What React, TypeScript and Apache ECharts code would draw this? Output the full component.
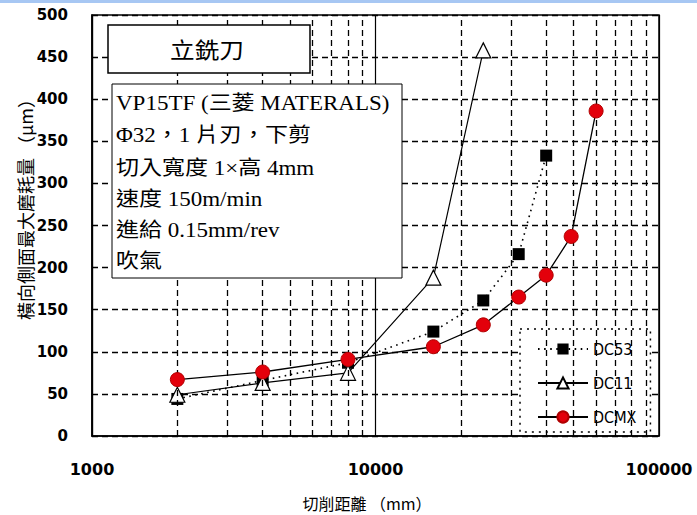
import React, { useEffect, useRef } from "react";
import * as echarts from "echarts";

// ---- data ----
const dc53X = [2000, 4000, 8000, 16000, 24000, 32000, 40000];
const dc53Y = [44, 66, 87, 124, 161, 216, 333];
const dc11X = [2000, 4000, 8000, 16000, 24000];
const dc11Y = [49, 63, 75, 188, 458];
const dcmxX = [2000, 4000, 8000, 16000, 24000, 32000, 40000, 49000, 60000];
const dcmxY = [67, 76, 91, 106, 132, 165, 191, 237, 386];
const seriesNames = ["DC53", "DC11", "DCMX"];
const minorGridX = [2000, 3000, 4000, 5000, 6000, 7000, 8000, 9000, 20000, 30000, 40000, 50000, 60000, 70000, 80000, 90000];
const titleText = "立銑刀";
const infoLines = [
  "VP15TF (三菱 MATERALS)",
  "Φ32，1 片刃，下剪",
  "切入寬度 1×高 4mm",
  "速度 150m/min",
  "進給 0.15mm/rev",
  "吹氣",
];
const xAxisTitle = "切削距離 （mm）";
const yAxisTitle = "橫向側面最大磨耗量 （μm）";

const pairs = (xs: number[], ys: number[]) => xs.map((x, i) => [x, ys[i]]);

export default function App() {
  const ref = useRef<HTMLDivElement>(null);
  useEffect(() => {
    document.body.style.margin = "0";
    const chart = echarts.init(ref.current!, null, { renderer: "svg" });
    const serif = "'Liberation Serif', 'Noto Sans CJK TC', serif";
    const lineYs = [104, 136, 169, 200, 231, 262];
    chart.setOption({
      animation: false,
      backgroundColor: "#fff",
      grid: {
        left: 92,
        right: 38,
        top: 15,
        bottom: 79,
        show: true,
        borderColor: "#000",
        borderWidth: 1.5,
      },
      xAxis: {
        type: "log",
        logBase: 10,
        min: 1000,
        max: 100000,
        axisLine: { lineStyle: { color: "#000", width: 1.5 } },
        axisTick: { show: false },
        axisLabel: {
          color: "#000",
          fontFamily: "'DejaVu Sans', sans-serif",
          fontWeight: "bold",
          fontSize: 16,
          margin: 25,
          formatter: (v: number) => String(Math.round(v)),
        },
        splitLine: { show: true, lineStyle: { color: "#000", width: 1.2, type: "solid" } },
      },
      yAxis: {
        type: "value",
        min: 0,
        max: 500,
        interval: 50,
        axisLine: { show: true, lineStyle: { color: "#000", width: 1.5 } },
        axisTick: { show: false },
        axisLabel: {
          color: "#000",
          fontFamily: "'DejaVu Sans', sans-serif",
          fontWeight: "bold",
          fontSize: 15,
          margin: 24,
        },
        splitLine: { show: true, lineStyle: { color: "#000", width: 1.3, type: [6, 4] } },
      },
      legend: {
        data: seriesNames,
        orient: "vertical",
        left: 520,
        top: 329,
        itemWidth: 50,
        itemHeight: 14,
        itemGap: 18,
        backgroundColor: "#fff",
        borderColor: "#000",
        borderType: [2, 5],
        borderWidth: 1.5,
        padding: [12, 14, 7, 17],
        textStyle: {
          color: "#000",
          fontFamily: "'DejaVu Sans Condensed', 'DejaVu Sans', sans-serif",
          fontSize: 16,
        },
      },
      series: [
        {
          name: "grid",
          type: "line",
          data: [],
          silent: true,
          z: 1,
          markLine: {
            silent: true,
            symbol: "none",
            label: { show: false },
            lineStyle: { color: "#000", width: 1.3, type: [6, 4] },
            data: minorGridX.map((v) => ({ xAxis: v })),
          },
        },
        {
          name: "DC53",
          type: "line",
          data: pairs(dc53X, dc53Y),
          symbol: "rect",
          symbolSize: 12,
          itemStyle: { color: "#000" },
          lineStyle: { color: "#000", width: 1.6, type: [1.6, 4.5] },
          z: 3,
        },
        {
          name: "DC11",
          type: "line",
          data: pairs(dc11X, dc11Y),
          symbol: "triangle",
          symbolSize: 15,
          itemStyle: { color: "#fff", borderColor: "#000", borderWidth: 1.2 },
          lineStyle: { color: "#000", width: 1.2 },
          z: 4,
        },
        {
          name: "DCMX",
          type: "line",
          data: pairs(dcmxX, dcmxY),
          symbol: "circle",
          symbolSize: 14,
          itemStyle: { color: "#e3000b", borderColor: "#b00000", borderWidth: 1 },
          lineStyle: { color: "#000", width: 1.3 },
          z: 5,
        },
      ],
      graphic: [
        { type: "rect", z: 100, shape: { x: 0, y: 0, width: 697, height: 3 }, style: { fill: "#a7c7f3" } },
        {
          type: "rect",
          z: 100,
          shape: { x: 108, y: 25, width: 202, height: 48 },
          style: { fill: "#fff", stroke: "#000", lineWidth: 1.5 },
        },
        {
          type: "text",
          z: 101,
          x: 207,
          y: 49,
          scaleX: 1.12,
          style: {
            text: titleText,
            fill: "#000",
            font: "22px 'Noto Sans CJK TC', sans-serif",
            align: "center",
            verticalAlign: "middle",
          },
        },
        {
          type: "rect",
          z: 100,
          shape: { x: 112, y: 84, width: 290, height: 194 },
          style: { fill: "#fff", stroke: "#000", lineWidth: 1 },
        },
        ...infoLines.map((t, i) => ({
          type: "text",
          z: 101,
          x: 116,
          y: lineYs[i],
          scaleX: 1.15,
          style: {
            text: t,
            fill: "#000",
            font: `20px ${serif}`,
            align: "left",
            verticalAlign: "middle",
          },
        })),
        {
          type: "text",
          z: 101,
          x: 25,
          y: 205,
          rotation: Math.PI / 2,
          style: {
            text: yAxisTitle,
            fill: "#000",
            font: "18px 'Noto Sans CJK TC', sans-serif",
            align: "center",
            verticalAlign: "middle",
          },
        },
        {
          type: "text",
          z: 101,
          x: 367,
          y: 503,
          style: {
            text: xAxisTitle,
            fill: "#000",
            font: "16px 'Noto Sans CJK TC', sans-serif",
            align: "center",
            verticalAlign: "middle",
          },
        },
      ],
    });
    return () => chart.dispose();
  }, []);
  return <div ref={ref} style={{ width: 697, height: 515 }} />;
}
